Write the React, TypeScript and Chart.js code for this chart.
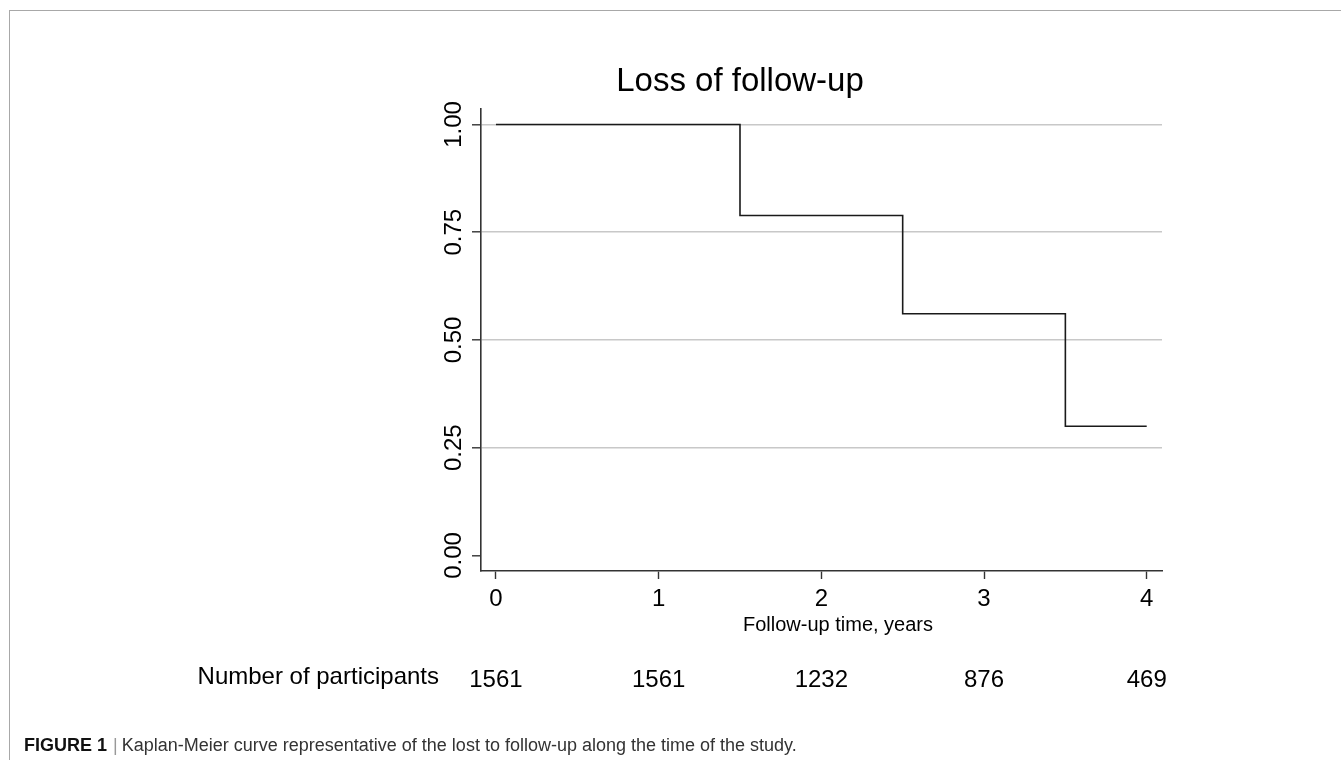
import React, { useEffect, useRef } from "react";
import { Chart, registerables } from "chart.js";

Chart.register(...registerables);

const chartTitle = "Loss of follow-up";
const xAxisTitle = "Follow-up time, years";
const riskRowLabel = "Number of participants";

// Kaplan-Meier step points (time in years, survival proportion)
const stepTimes = [0, 1.5, 2.5, 3.5, 4];
const survival = [1.0, 0.789, 0.561, 0.3, 0.3];

// axis ticks
const xTicks = [0, 1, 2, 3, 4];
const yTicks = [0, 0.25, 0.5, 0.75, 1.0];

// numbers at risk
const riskTimes = [0, 1, 2, 3, 4];
const atRisk = [1561, 1561, 1232, 876, 469];

const FONT = "'Liberation Sans', Arial, Helvetica, sans-serif";

const textPlugin = {
  id: "kmText",
  afterDraw(chart: any) {
    const ctx = chart.ctx;
    const xs = chart.scales.x;
    ctx.save();
    ctx.fillStyle = "#000";
    // title
    ctx.font = `33px ${FONT}`;
    ctx.textAlign = "center";
    ctx.textBaseline = "alphabetic";
    ctx.fillText(chartTitle, 740, 91);
    // x axis title
    ctx.font = `20px ${FONT}`;
    ctx.fillText(xAxisTitle, 838, 631);
    // risk row
    ctx.font = `24px ${FONT}`;
    ctx.textAlign = "right";
    ctx.fillText(riskRowLabel, 439, 684);
    ctx.textAlign = "center";
    riskTimes.forEach((t, i) => {
      ctx.fillText(String(atRisk[i]), xs.getPixelForValue(t), 687);
    });
    ctx.restore();
  },
};

export default function App() {
  const canvasRef = useRef<HTMLCanvasElement>(null);

  useEffect(() => {
    if (!canvasRef.current) return;
    const chart = new Chart(canvasRef.current, {
      type: "line",
      data: {
        datasets: [
          {
            data: stepTimes.map((t, i) => ({ x: t, y: survival[i] })),
            stepped: "before",
            borderColor: "#1a1a1a",
            borderWidth: 1.6,
            pointRadius: 0,
            fill: false,
          },
        ],
      },
      options: {
        responsive: false,
        animation: false,
        devicePixelRatio: 1,
        layout: { padding: { left: 0, top: 109, right: 179, bottom: 0 } },
        plugins: {
          legend: { display: false },
          title: { display: false },
          tooltip: { enabled: false },
        },
        scales: {
          x: {
            type: "linear",
            min: -0.092,
            max: 4.094,
            afterBuildTicks: (s: any) => {
              s.ticks = xTicks.map((v) => ({ value: v }));
            },
            afterFit: (s: any) => {
              s.height = 189;
            },
            border: { display: true, color: "#333", width: 1.6 },
            grid: {
              drawOnChartArea: false,
              drawTicks: true,
              tickLength: 8,
              tickColor: "#333",
              tickWidth: 1.4,
            },
            ticks: {
              color: "#000",
              font: { family: FONT, size: 24 },
              padding: 6,
              maxRotation: 0,
              autoSkip: false,
              callback: (v: any) => String(v),
            },
          },
          y: {
            type: "linear",
            min: -0.036,
            max: 1.036,
            afterBuildTicks: (s: any) => {
              s.ticks = yTicks.map((v) => ({ value: v }));
            },
            afterFit: (s: any) => {
              s.width = 481;
            },
            border: { display: true, color: "#333", width: 1.6 },
            grid: {
              drawOnChartArea: true,
              drawTicks: true,
              tickLength: 9,
              tickColor: "#333",
              tickWidth: 1.4,
              lineWidth: 1.6,
              color: (c: any) =>
                c.tick && c.tick.value === 0 ? "rgba(0,0,0,0)" : "#c8c8c8",
            },
            ticks: {
              color: "#000",
              font: { family: FONT, size: 24 },
              padding: -6,
              minRotation: 90,
              maxRotation: 90,
              crossAlign: "center",
              autoSkip: false,
              callback: (v: any) => Number(v).toFixed(2),
            },
          },
        },
      },
      plugins: [textPlugin],
    } as any);
    return () => chart.destroy();
  }, []);

  return (
    <div>
      <div
        style={{
          position: "fixed",
          left: 9,
          top: 10,
          width: 1332,
          height: 750,
          borderTop: "1px solid #a8a8a8",
          borderLeft: "1px solid #a8a8a8",
          boxSizing: "border-box",
        }}
      />
      <canvas
        ref={canvasRef}
        width={1341}
        height={760}
        style={{ position: "fixed", left: 0, top: 0, width: 1341, height: 760 }}
      />
      <div
        style={{
          position: "fixed",
          left: 24,
          top: 736,
          fontFamily: FONT,
          fontSize: 18,
          lineHeight: "18px",
          color: "#333",
          whiteSpace: "nowrap",
        }}
      >
        <span style={{ fontWeight: "bold", color: "#111" }}>FIGURE 1</span>
        <span style={{ color: "#999", margin: "0 4px 0 6px" }}>|</span>
        <span>
          Kaplan-Meier curve representative of the lost to follow-up along the
          time of the study.
        </span>
      </div>
    </div>
  );
}
